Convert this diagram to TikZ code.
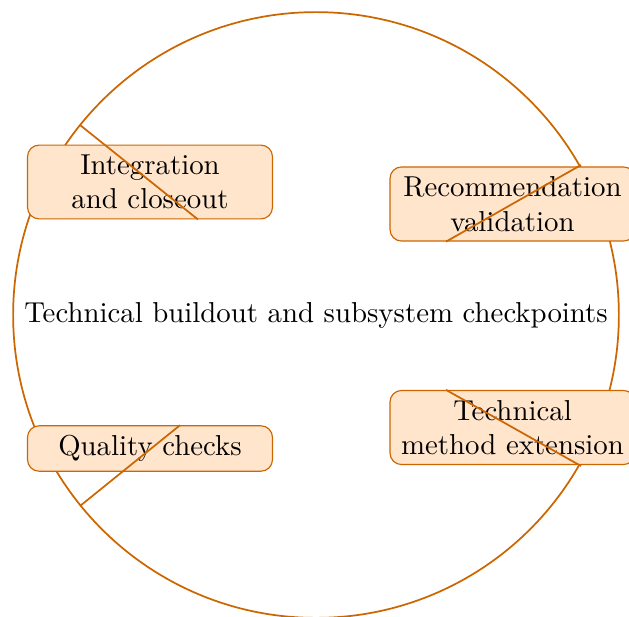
\documentclass[tikz,border=0pt]{standalone}
\usetikzlibrary{calc}
\colorlet{rimcolor}{orange!80!black}
\colorlet{boxfill}{orange!20}
\tikzset{phase/.style={draw=rimcolor, fill=boxfill, rounded corners, align=center, minimum width=85pt}}
\begin{document}
\begin{tikzpicture}[x=0.347pt,y=-0.347pt]
\useasboundingbox (0,0) rectangle (629,617);
%Ring
\coordinate (c) at (316,315);
\draw[rimcolor, semithick] (c) circle[radius=105.1pt];
\node (title) at (c) {Technical buildout and subsystem checkpoints};
%Boxes
\node[phase] (integ) at (150,182) {Integration\\and closeout};
\node[phase] (recom) at (512.5,204) {Recommendation\\validation};
\node[phase] (qual) at (150,448.5) {Quality checks};
\node[phase] (meth) at (512.5,427.5) {Technical\\method extension};
%Marks on the ring
\coordinate (r1) at (80,125);
\coordinate (r2) at (581,165);
\coordinate (r3) at (80,506);
\coordinate (r4) at (581,466);
\draw[rimcolor, semithick] (r1) -- ($(integ.south)+(48,0)$);
\draw[rimcolor, semithick] (r2) -- ($(recom.south)+(-66.5,0)$);
\draw[rimcolor, semithick] (r3) -- ($(qual.north)+(30,0)$);
\draw[rimcolor, semithick] (r4) -- ($(meth.north)+(-66.5,0)$);
\end{tikzpicture}
\end{document}
